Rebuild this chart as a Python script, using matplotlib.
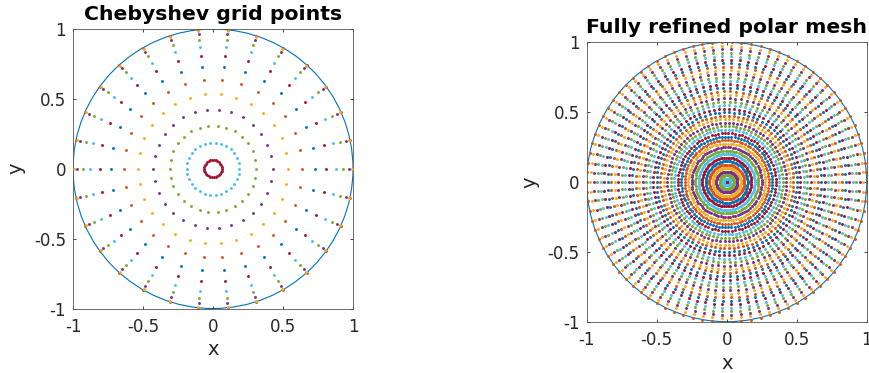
import matplotlib
matplotlib.use("Agg")
import matplotlib.pyplot as plt
import numpy as np
from matplotlib.patches import Circle

# ---------------- data ----------------
# Left panel: Chebyshev radii (outer to inner) and 30 equispaced angles (deg)
cheb_radii = [1.0, 0.9921, 0.9686, 0.9298, 0.8763, 0.8090, 0.7290,
              0.6374, 0.5358, 0.4258, 0.3090, 0.1874, 0.0628]
cheb_angles_deg = [0, 12, 24, 36, 48, 60, 72, 84, 96, 108,
                   120, 132, 144, 156, 168, 180, 192, 204, 216, 228,
                   240, 252, 264, 276, 288, 300, 312, 324, 336, 348]

# Right panel: uniformly refined radii (outer to inner) and 90 angles (deg)
mesh_radii = [1.000, 0.975, 0.950, 0.925, 0.900, 0.875, 0.850, 0.825, 0.800,
              0.775, 0.750, 0.725, 0.700, 0.675, 0.650, 0.625, 0.600, 0.575,
              0.550, 0.525, 0.500, 0.475, 0.450, 0.425, 0.400, 0.375, 0.350,
              0.325, 0.300, 0.275, 0.250, 0.225, 0.200, 0.175, 0.150, 0.125,
              0.100, 0.075, 0.050, 0.025, 0.000]
mesh_angles_deg = [0, 4, 8, 12, 16, 20, 24, 28, 32, 36,
                   40, 44, 48, 52, 56, 60, 64, 68, 72, 76,
                   80, 84, 88, 92, 96, 100, 104, 108, 112, 116,
                   120, 124, 128, 132, 136, 140, 144, 148, 152, 156,
                   160, 164, 168, 172, 176, 180, 184, 188, 192, 196,
                   200, 204, 208, 212, 216, 220, 224, 228, 232, 236,
                   240, 244, 248, 252, 256, 260, 264, 268, 272, 276,
                   280, 284, 288, 292, 296, 300, 304, 308, 312, 316,
                   320, 324, 328, 332, 336, 340, 344, 348, 352, 356]

titles = ["Chebyshev grid points", "Fully refined polar mesh"]
tick_vals = [-1, -0.5, 0, 0.5, 1]
tick_labels = ["-1", "-0.5", "0", "0.5", "1"]

# MATLAB default colour order
colors = ['#0072BD', '#D95319', '#EDB120', '#7E2F8E',
          '#77AC30', '#4DBEEE', '#A2142F']

plt.rcParams['font.family'] = ['DejaVu Sans']

W, H = 869, 373
fig = plt.figure(figsize=(W / 100, H / 100), dpi=100)

ax1 = fig.add_axes([73 / W, (H - 308.5) / H, 280 / W, 279.5 / H])
ax2 = fig.add_axes([586.7 / W, (H - 321.7) / H, 280 / W, 279.4 / H])


def draw(ax, radii, angles_deg, title, ms):
    ax.add_patch(Circle((0, 0), 1.0, fill=False, edgecolor=colors[0],
                        linewidth=0.8, zorder=1))
    th = np.deg2rad(np.array(angles_deg, dtype=float))
    for i, r in enumerate(radii):
        c = colors[(i + 1) % len(colors)]
        ax.scatter(r * np.cos(th), r * np.sin(th), s=ms ** 2, marker='o',
                   linewidths=0, color=c, zorder=2 + i)
    ax.set_xlim(-1, 1)
    ax.set_ylim(-1, 1)
    ax.set_xticks(tick_vals)
    ax.set_xticklabels(tick_labels)
    ax.set_yticks(tick_vals)
    ax.set_yticklabels(tick_labels)
    ax.tick_params(direction='in', length=2.5, width=0.6, top=True,
                   right=True, labelsize=12, colors='#262626')
    ax.tick_params(axis='x', pad=7)
    ax.tick_params(axis='y', pad=5)
    for s in ax.spines.values():
        s.set_linewidth(0.6)
        s.set_color('#555555')
    ax.set_xlabel('x', fontsize=14, color='#262626', labelpad=3)
    ax.set_ylabel('y', fontsize=14, color='#262626', labelpad=6)
    ax.set_title(title, fontsize=14.7, fontweight='bold', pad=6.5)


draw(ax1, cheb_radii, cheb_angles_deg, titles[0], 2.1)
draw(ax2, mesh_radii, mesh_angles_deg, titles[1], 2.15)

fig.savefig('out.png', dpi=100)
